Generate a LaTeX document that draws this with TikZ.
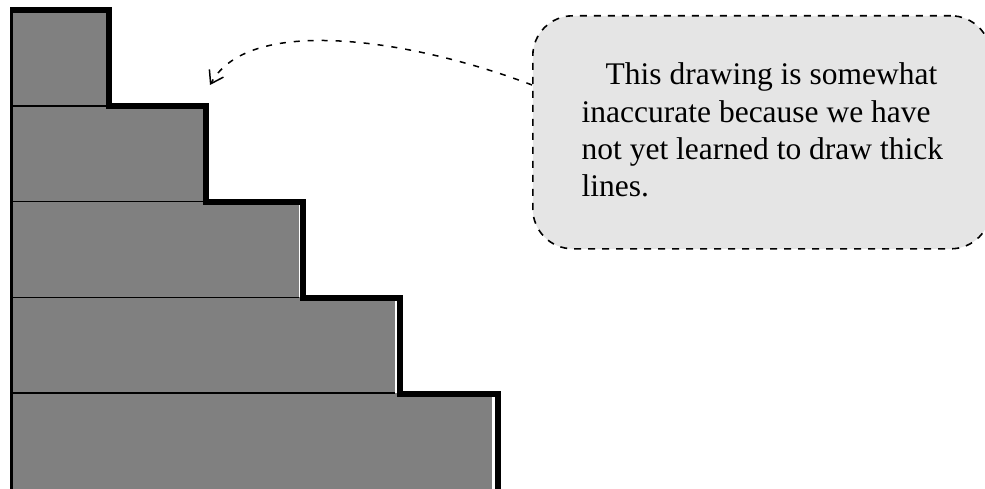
\documentclass[tikz,border=0pt]{standalone}
\usepackage{fontspec}
\setmainfont{Liberation Serif}
\usetikzlibrary{arrows.meta}

\begin{document}
\begin{tikzpicture}[
			x=1pt, y=-1pt,
			stairfill/.style={fill=black!50},
			divider/.style={line width=1.7pt},
			stairline/.style={line width=6pt},
			calloutbox/.style={draw, fill=black!10, line width=1.6pt,
					dash pattern=on 7pt off 7pt, rounded corners=40pt,
					minimum width=458pt, minimum height=233pt, anchor=north west},
			pointer/.style={line width=1.5pt, dash pattern=on 6pt off 8pt,
					-{Straight Barb[length=12pt,width=16pt]}}
		]
		\useasboundingbox (0,0) rectangle (985,489);
		% the steps
		\foreach \i in {1,...,5}
		\fill[stairfill] (12,{10+95.8*(\i-1)}) rectangle ({10+96.3*\i},{10+95.8*\i});
		\foreach \i in {2,...,5}
		\draw[divider] (12,{10+95.8*(\i-1)}) -- ({10+96.3*(\i-1)},{10+95.8*(\i-1)});
		\draw[line width=2.5pt] (11.5,10) -- (11.5,492);
		\draw[stairline] (10,9.8) \foreach \i in {1,...,5} { -| ({11.25+97.25*\i},{9.8+96.1*\i}) };
		% the note
		\node[calloutbox] (callout) at (532,15) {};
		\node[anchor=base west, inner sep=0pt] (note) at (581.5,85) {%
			\fontsize{31.5pt}{37.3pt}\selectfont
			\parbox[t]{400pt}{\raggedright\hspace*{24pt}This drawing is somewhat\\
				inaccurate because we have\\
				not yet learned to draw thick\\
				lines.}};
		\coordinate (tip) at (210,85);
		\draw[pointer] (callout.west |- tip) .. controls (420,42) and (250,12) .. (tip);
	\end{tikzpicture}
\end{document}
